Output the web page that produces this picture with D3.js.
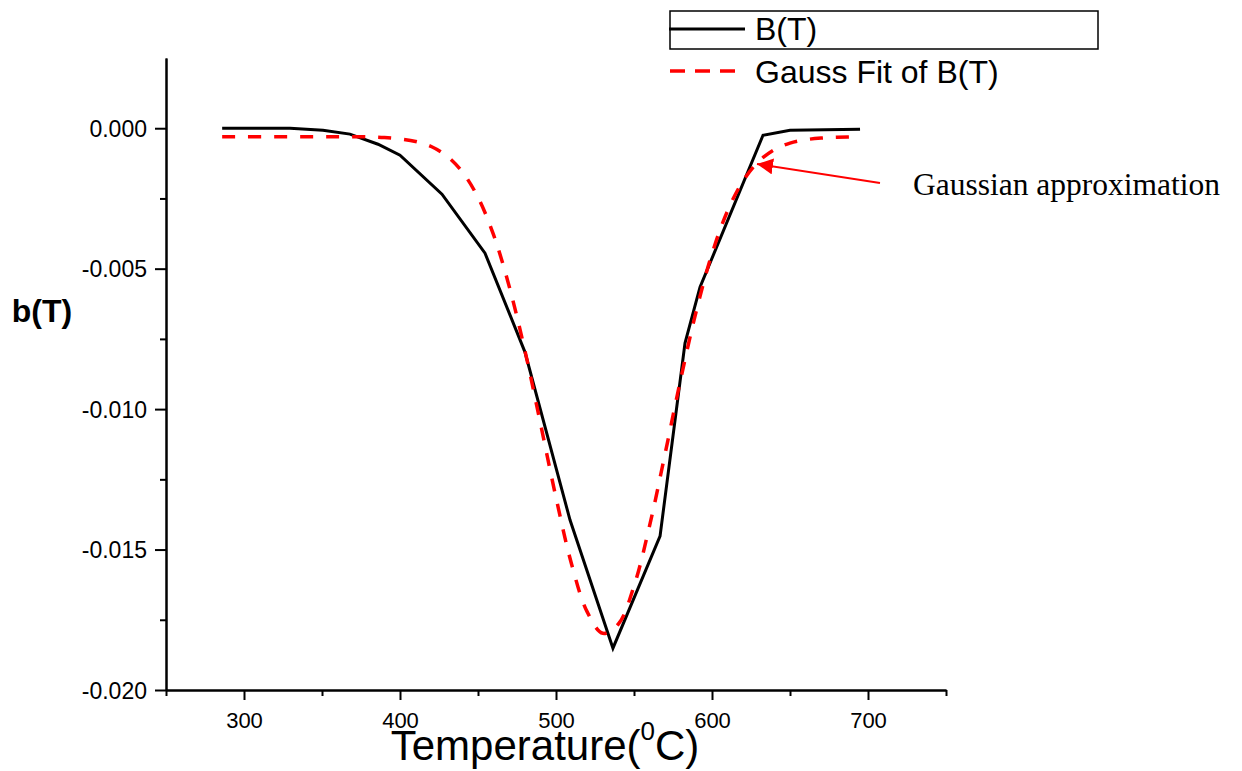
<!DOCTYPE html>
<html>
<head>
<meta charset="utf-8">
<script src="https://cdn.jsdelivr.net/npm/d3@7"></script>
<style>
  body { margin: 0; background: #fff; }
</style>
</head>
<body>
<div id="chart"></div>
<script>
const ancho = 1242;
const alto = 771;
const fuente = "Arial, 'Liberation Sans', sans-serif";

// datos
const tempMedida = [286, 329.5, 350.6, 367.9, 385.9, 400, 426.9, 454.5, 480.1, 509, 536.5, 566.7, 582.7, 592.3, 632.7, 650, 694.9];
const bMedida = [0, 0, -0.00007, -0.00021, -0.00057, -0.00096, -0.00235, -0.00445, -0.00797, -0.01395, -0.01851, -0.01452, -0.00765, -0.00566, -0.00025, -0.00007, -0.00004];

const tempAjuste = [286, 300, 320, 340, 360, 380, 390, 400, 410, 420, 430, 440, 450, 460, 470, 480, 490, 500, 510, 520, 530, 540, 550, 560, 570, 580, 590, 600, 610, 620, 630, 640, 650, 660, 670, 680, 696];
const bAjuste = [-0.0003, -0.0003, -0.0003, -0.0003, -0.0003, -0.00031, -0.00033, -0.00038, -0.00047, -0.00065, -0.00099, -0.00156, -0.00246, -0.0038, -0.00563, -0.0079, -0.0105, -0.01315, -0.01552, -0.01722, -0.01798, -0.01765, -0.0163, -0.01415, -0.01157, -0.00892, -0.00649, -0.00447, -0.00294, -0.00187, -0.00118, -0.00076, -0.00053, -0.00041, -0.00035, -0.00032, -0.0003];

const ticksX = [300, 400, 500, 600, 700];
const ticksXMenor = [250, 350, 450, 550, 650, 750];
const ticksY = [0, -0.005, -0.01, -0.015, -0.02];
const ticksYMenor = [-0.0025, -0.0075, -0.0125, -0.0175];

const svg = d3.select("#chart").append("svg")
  .attr("width", ancho)
  .attr("height", alto)
  .style("font-family", fuente);

// escalas
const x = d3.scaleLinear().domain([250, 750]).range([166, 946]);
const y = d3.scaleLinear().domain([-0.02, 0.0025]).range([690, 58]);

const formatoY = d3.formatLocale({ decimal: ".", thousands: ",", grouping: [3], currency: ["", ""], minus: "-" }).format(".3f");

// ejes
const grupoX = svg.append("g").attr("transform", `translate(0, ${y(-0.02)})`);
grupoX.call(d3.axisBottom(x).tickValues(ticksX).tickSize(10).tickSizeOuter(0).tickPadding(12));
svg.append("g").attr("transform", `translate(0, ${y(-0.02)})`)
  .call(d3.axisBottom(x).tickValues(ticksXMenor).tickSize(6).tickSizeOuter(0).tickFormat(""));

const grupoY = svg.append("g").attr("transform", `translate(${x(250)}, 0)`);
grupoY.call(d3.axisLeft(y).tickValues(ticksY).tickSize(11).tickSizeOuter(0).tickPadding(8).tickFormat(formatoY));
svg.append("g").attr("transform", `translate(${x(250)}, 0)`)
  .call(d3.axisLeft(y).tickValues(ticksYMenor).tickSize(6).tickSizeOuter(0).tickFormat(""));

svg.selectAll(".domain, .tick line").attr("stroke", "#000").attr("stroke-width", 2);
svg.selectAll(".tick text").attr("fill", "#000").attr("font-family", fuente);
grupoX.selectAll(".tick text").attr("font-size", 22);
grupoY.selectAll(".tick text").attr("font-size", 23).attr("dy", "0.35em");

// lineas
const datosMedida = tempMedida.map((t, i) => ({ t: t, b: bMedida[i] }));
const datosAjuste = tempAjuste.map((t, i) => ({ t: t, b: bAjuste[i] }));

const linea = d3.line().x(d => x(d.t)).y(d => y(d.b));
const lineaSuave = d3.line().x(d => x(d.t)).y(d => y(d.b)).curve(d3.curveCatmullRom);

svg.append("path")
  .datum(datosMedida)
  .attr("fill", "none")
  .attr("stroke", "#000")
  .attr("stroke-width", 3)
  .attr("stroke-linejoin", "miter")
  .attr("d", linea);

svg.append("path")
  .datum(datosAjuste)
  .attr("fill", "none")
  .attr("stroke", "#ff0000")
  .attr("stroke-width", 3.5)
  .attr("stroke-dasharray", "13,13")
  .attr("d", lineaSuave);

// titulos
svg.append("text")
  .attr("x", 42).attr("y", 322)
  .attr("text-anchor", "middle")
  .attr("font-size", 32)
  .attr("font-weight", "bold")
  .text("b(T)");

const tituloX = svg.append("text")
  .attr("x", 545).attr("y", 760)
  .attr("text-anchor", "middle")
  .attr("font-size", 42);
tituloX.append("tspan").text("Temperature(");
tituloX.append("tspan").attr("font-size", 26).attr("dy", -20).text("0");
tituloX.append("tspan").attr("dy", 20).text("C)");

// leyenda
const leyenda = svg.append("g");
leyenda.append("rect")
  .attr("x", 670).attr("y", 11).attr("width", 428).attr("height", 38)
  .attr("fill", "none").attr("stroke", "#000").attr("stroke-width", 1.5);
leyenda.append("line")
  .attr("x1", 669).attr("x2", 745).attr("y1", 29).attr("y2", 29)
  .attr("stroke", "#000").attr("stroke-width", 3);
leyenda.append("text").attr("x", 755).attr("y", 40).attr("font-size", 32).text("B(T)");
leyenda.append("line")
  .attr("x1", 670).attr("x2", 737).attr("y1", 71).attr("y2", 71)
  .attr("stroke", "#ff0000").attr("stroke-width", 3.5).attr("stroke-dasharray", "15,10");
leyenda.append("text").attr("x", 755).attr("y", 83).attr("font-size", 32).text("Gauss Fit of B(T)");

// anotacion
svg.append("defs").append("marker")
  .attr("id", "flecha")
  .attr("viewBox", "0 0 10 10")
  .attr("refX", 10).attr("refY", 5)
  .attr("markerWidth", 8).attr("markerHeight", 8)
  .attr("markerUnits", "strokeWidth")
  .attr("orient", "auto")
  .append("path").attr("d", "M0,0 L10,5 L0,10 z").attr("fill", "#ff0000");

svg.append("line")
  .attr("x1", 880).attr("y1", 183).attr("x2", 757).attr("y2", 164)
  .attr("stroke", "#ff0000").attr("stroke-width", 2)
  .attr("marker-end", "url(#flecha)");

svg.append("text")
  .attr("x", 913).attr("y", 195)
  .attr("font-family", "'Times New Roman', 'Liberation Serif', serif")
  .attr("font-size", 31.5)
  .text("Gaussian approximation");
</script>
</body>
</html>
